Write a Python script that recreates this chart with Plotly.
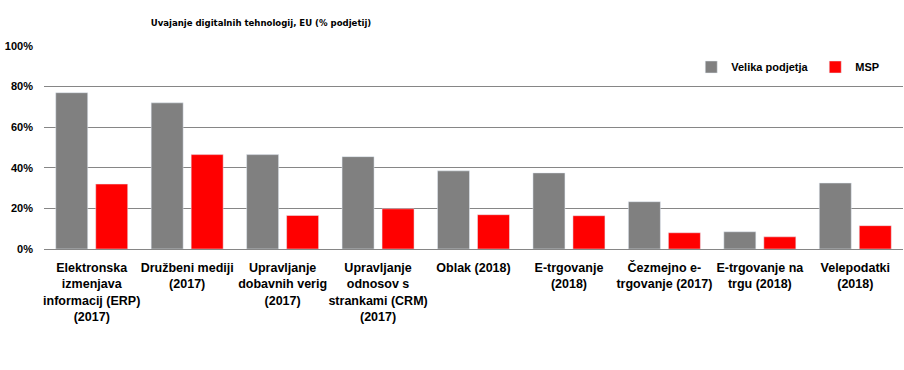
import plotly.graph_objects as go

categories = [
    "Elektronska<br>izmenjava<br>informacij (ERP)<br>(2017)",
    "Družbeni mediji<br>(2017)",
    "Upravljanje<br>dobavnih verig<br>(2017)",
    "Upravljanje<br>odnosov s<br>strankami (CRM)<br>(2017)",
    "Oblak (2018)",
    "E-trgovanje<br>(2018)",
    "Čezmejno e-<br>trgovanje (2017)",
    "E-trgovanje na<br>trgu (2018)",
    "Velepodatki<br>(2018)",
]
velika = [0.77, 0.72, 0.465, 0.455, 0.385, 0.375, 0.233, 0.085, 0.325]
msp = [0.32, 0.465, 0.165, 0.198, 0.169, 0.164, 0.08, 0.06, 0.115]

FONT = "Liberation Sans"

fig = go.Figure()
fig.add_trace(go.Bar(x=categories, y=velika, name="<b>Velika podjetja</b>", marker_color="#808080"))
fig.add_trace(go.Bar(x=categories, y=msp, name="<b>MSP</b>", marker_color="#ff0000"))

fig.update_layout(
    width=904, height=370,
    margin=dict(l=44, r=1, t=46, b=121, autoexpand=False),
    paper_bgcolor="white", plot_bgcolor="white",
    barmode="group", bargap=0.162, bargroupgap=0.2,
    font=dict(family=FONT, size=11, color="black"),
    title=dict(text="<b>Uvajanje digitalnih tehnologij, EU (% podjetij)</b>",
               font=dict(family="DejaVu Sans Condensed", size=9.5, color="black"),
               x=261/904, xanchor="center", y=1-23/370, yanchor="middle"),
    legend=dict(orientation="h", x=(692-44)/860, xanchor="left", y=(249-67)/203, yanchor="middle",
                font=dict(family=FONT, size=11), bgcolor="rgba(0,0,0,0)",
                itemwidth=30, entrywidthmode="pixels", entrywidth=79),
    showlegend=True,
)
fig.update_yaxes(range=[0, 1], tickvals=[0, 0.2, 0.4, 0.6, 0.8, 1.0],
                 ticktext=["<b>0%</b>", "<b>20%</b>", "<b>40%</b>", "<b>60%</b>", "<b>80%</b>", "<b>100%</b>"],
                 showgrid=True, gridcolor="#868686", gridwidth=1, zeroline=False,
                 ticklabelstandoff=10, tickfont=dict(size=11, family=FONT), fixedrange=True)
fig.update_xaxes(showline=True, linecolor="#868686", linewidth=1,
                 tickvals=categories, ticktext=["<b>" + c.replace("<br>", "</b><br><b>") + "</b>" for c in categories],
                 tickangle=0, ticklabelstandoff=7, tickfont=dict(size=12.5, family=FONT), fixedrange=True)

fig.write_html("out.html", config={"displayModeBar": False}, post_script="document.body.style.margin='0';")
